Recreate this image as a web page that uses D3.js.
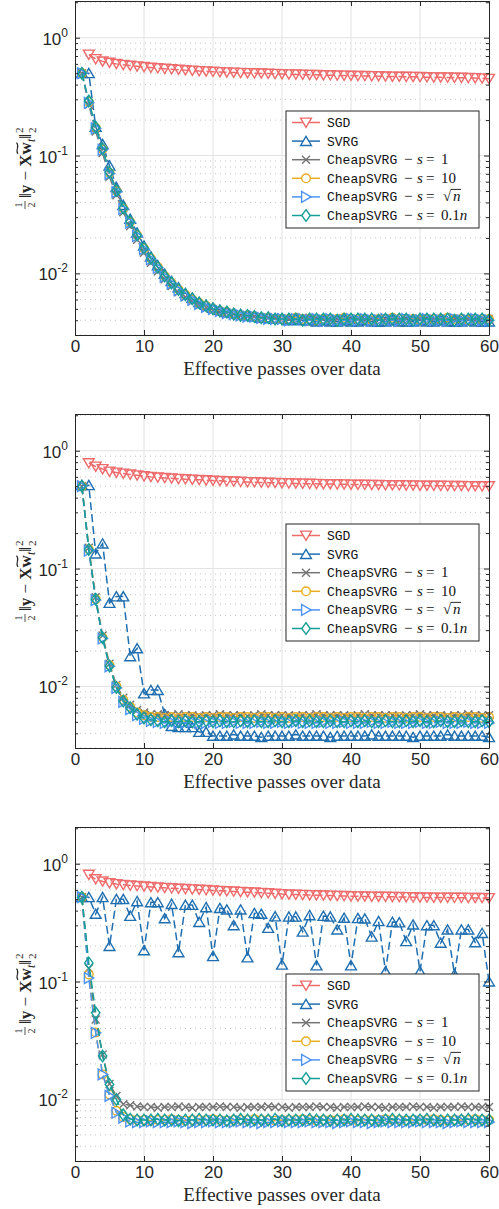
<!DOCTYPE html>
<html>
<head>
<meta charset="utf-8">
<script src="https://cdn.jsdelivr.net/npm/d3@7"></script>
<style>
  body { margin: 0; background: #fff; }
</style>
</head>
<body>
<div id="chart"></div>
<script>
// effective passes (x values)
var passes = [
  1, 2, 3, 4, 5, 6, 7, 8, 9, 10,
  11, 12, 13, 14, 15, 16, 17, 18, 19, 20,
  21, 22, 23, 24, 25, 26, 27, 28, 29, 30,
  31, 32, 33, 34, 35, 36, 37, 38, 39, 40,
  41, 42, 43, 44, 45, 46, 47, 48, 49, 50,
  51, 52, 53, 54, 55, 56, 57, 58, 59, 60
];

// ---- top panel
var sgdA = [
  null, 0.720, 0.660, 0.630, 0.615, 0.600, 0.590, 0.580, 0.572, 0.565,
  0.558, 0.552, 0.546, 0.541, 0.536, 0.531, 0.527, 0.522, 0.519, 0.515,
  0.512, 0.509, 0.507, 0.504, 0.502, 0.500, 0.498, 0.496, 0.494, 0.492,
  0.490, 0.488, 0.487, 0.485, 0.484, 0.482, 0.481, 0.479, 0.478, 0.477,
  0.475, 0.474, 0.473, 0.472, 0.470, 0.469, 0.468, 0.467, 0.466, 0.465,
  0.463, 0.462, 0.461, 0.460, 0.459, 0.458, 0.456, 0.455, 0.453, 0.448
];
var svrgA = [
  0.500, 0.500, 0.175, 0.125, 0.082, 0.054, 0.038, 0.029, 0.0222, 0.0172,
  0.0139, 0.0117, 0.0099, 0.0086, 0.0076, 0.0068, 0.0062, 0.0057, 0.0054, 0.0051,
  0.0049, 0.0047, 0.0046, 0.0045, 0.0044, 0.0043, 0.0042, 0.0042, 0.0041, 0.0041,
  0.0040, 0.0041, 0.0040, 0.0040, 0.0039, 0.0040, 0.0039, 0.0039, 0.0040, 0.0039,
  0.0039, 0.0040, 0.0039, 0.0039, 0.0039, 0.0040, 0.0039, 0.0039, 0.0039, 0.0040,
  0.0039, 0.0039, 0.0040, 0.0039, 0.0039, 0.0039, 0.0040, 0.0039, 0.0039, 0.0039
];
var cheap1A = [
  0.500, 0.270, 0.160, 0.105, 0.066, 0.046, 0.0330, 0.0252, 0.0193, 0.0150,
  0.0123, 0.0104, 0.0089, 0.0078, 0.0069, 0.0063, 0.0058, 0.0054, 0.0051, 0.0049,
  0.0047, 0.0046, 0.0045, 0.0044, 0.0043, 0.0043, 0.0042, 0.0042, 0.0042, 0.0041,
  0.0041, 0.0041, 0.0042, 0.0041, 0.0041, 0.0041, 0.0040, 0.0041, 0.0041, 0.0041,
  0.0041, 0.0040, 0.0041, 0.0041, 0.0041, 0.0041, 0.0040, 0.0041, 0.0041, 0.0041,
  0.0041, 0.0041, 0.0040, 0.0041, 0.0041, 0.0041, 0.0041, 0.0040, 0.0041, 0.0041
];
var cheap10A = [
  0.500, 0.285, 0.172, 0.113, 0.071, 0.050, 0.0356, 0.0273, 0.0211, 0.0163,
  0.0134, 0.0113, 0.0095, 0.0083, 0.0073, 0.0066, 0.0060, 0.0056, 0.0053, 0.0050,
  0.0048, 0.0047, 0.0045, 0.0044, 0.0044, 0.0043, 0.0042, 0.0042, 0.0041, 0.0041,
  0.0041, 0.0042, 0.0041, 0.0041, 0.0040, 0.0041, 0.0041, 0.0041, 0.0042, 0.0041,
  0.0041, 0.0041, 0.0040, 0.0041, 0.0041, 0.0042, 0.0041, 0.0041, 0.0041, 0.0040,
  0.0041, 0.0041, 0.0041, 0.0042, 0.0041, 0.0041, 0.0040, 0.0041, 0.0041, 0.0041
];
var cheapSqrtA = [
  0.500, 0.280, 0.170, 0.112, 0.070, 0.049, 0.0352, 0.0270, 0.0208, 0.0161,
  0.0132, 0.0112, 0.0094, 0.0082, 0.0072, 0.0065, 0.0060, 0.0055, 0.0052, 0.0050,
  0.0048, 0.0046, 0.0045, 0.0044, 0.0043, 0.0043, 0.0042, 0.0041, 0.0041, 0.0041,
  0.0040, 0.0041, 0.0041, 0.0040, 0.0041, 0.0040, 0.0041, 0.0040, 0.0040, 0.0041,
  0.0040, 0.0041, 0.0040, 0.0040, 0.0041, 0.0040, 0.0040, 0.0041, 0.0040, 0.0040,
  0.0041, 0.0040, 0.0040, 0.0040, 0.0041, 0.0040, 0.0040, 0.0041, 0.0040, 0.0040
];
var cheapTenthA = [
  0.500, 0.290, 0.174, 0.114, 0.072, 0.0505, 0.0358, 0.0275, 0.0212, 0.0164,
  0.0134, 0.0113, 0.0095, 0.0083, 0.0073, 0.0066, 0.0061, 0.0056, 0.0053, 0.0050,
  0.0048, 0.0047, 0.0045, 0.0044, 0.0044, 0.0043, 0.0042, 0.0042, 0.0041, 0.0041,
  0.0041, 0.0041, 0.0040, 0.0041, 0.0041, 0.0041, 0.0041, 0.0040, 0.0041, 0.0041,
  0.0041, 0.0041, 0.0041, 0.0040, 0.0041, 0.0041, 0.0041, 0.0041, 0.0040, 0.0041,
  0.0041, 0.0041, 0.0041, 0.0041, 0.0040, 0.0041, 0.0041, 0.0041, 0.0041, 0.0040
];

// ---- middle panel
var sgdB = [
  null, 0.785, 0.735, 0.700, 0.666, 0.653, 0.640, 0.629, 0.619, 0.608,
  0.600, 0.594, 0.588, 0.583, 0.578, 0.574, 0.570, 0.566, 0.562, 0.558,
  0.555, 0.552, 0.549, 0.546, 0.543, 0.541, 0.538, 0.536, 0.534, 0.532,
  0.530, 0.528, 0.527, 0.525, 0.524, 0.522, 0.521, 0.520, 0.519, 0.517,
  0.516, 0.515, 0.514, 0.513, 0.512, 0.511, 0.510, 0.509, 0.508, 0.507,
  0.506, 0.506, 0.505, 0.504, 0.503, 0.503, 0.502, 0.501, 0.500, 0.500
];
var svrgB = [
  0.510, 0.510, 0.134, 0.163, 0.051, 0.058, 0.058, 0.0180, 0.0210, 0.0087,
  0.0093, 0.0093, 0.0058, 0.0046, 0.0045, 0.0045, 0.0045, 0.0041, 0.0041, 0.0038,
  0.0038, 0.0038, 0.0039, 0.0038, 0.0038, 0.0038, 0.0037, 0.0038, 0.0038, 0.0038,
  0.0038, 0.0039, 0.0038, 0.0038, 0.0038, 0.0038, 0.0037, 0.0038, 0.0038, 0.0038,
  0.0038, 0.0038, 0.0039, 0.0038, 0.0038, 0.0038, 0.0038, 0.0038, 0.0037, 0.0038,
  0.0038, 0.0038, 0.0038, 0.0039, 0.0038, 0.0038, 0.0038, 0.0038, 0.0038, 0.0037
];
var cheap1B = [
  0.500, 0.150, 0.057, 0.0270, 0.0156, 0.0103, 0.0080, 0.0070, 0.0063, 0.0060,
  0.0058, 0.0058, 0.0057, 0.0057, 0.0058, 0.0057, 0.0057, 0.0056, 0.0057, 0.0057,
  0.0058, 0.0057, 0.0057, 0.0057, 0.0056, 0.0057, 0.0058, 0.0057, 0.0057, 0.0057,
  0.0057, 0.0056, 0.0057, 0.0057, 0.0058, 0.0057, 0.0057, 0.0057, 0.0057, 0.0056,
  0.0057, 0.0058, 0.0057, 0.0057, 0.0057, 0.0057, 0.0056, 0.0057, 0.0057, 0.0058,
  0.0057, 0.0057, 0.0057, 0.0056, 0.0057, 0.0057, 0.0058, 0.0057, 0.0057, 0.0057
];
var cheap10B = [
  0.500, 0.146, 0.055, 0.0260, 0.0151, 0.0100, 0.0077, 0.0067, 0.0060, 0.0057,
  0.0055, 0.0055, 0.0054, 0.0055, 0.0054, 0.0055, 0.0055, 0.0054, 0.0055, 0.0054,
  0.0055, 0.0055, 0.0054, 0.0055, 0.0055, 0.0054, 0.0055, 0.0055, 0.0054, 0.0055,
  0.0054, 0.0055, 0.0055, 0.0054, 0.0055, 0.0055, 0.0054, 0.0055, 0.0054, 0.0055,
  0.0055, 0.0054, 0.0055, 0.0055, 0.0054, 0.0055, 0.0055, 0.0054, 0.0055, 0.0055,
  0.0054, 0.0055, 0.0055, 0.0054, 0.0055, 0.0054, 0.0055, 0.0055, 0.0054, 0.0055
];
var cheapSqrtB = [
  0.500, 0.142, 0.054, 0.0255, 0.0148, 0.0097, 0.0074, 0.0064, 0.0057, 0.0053,
  0.0051, 0.0050, 0.0049, 0.0050, 0.0049, 0.0049, 0.0050, 0.0049, 0.0049, 0.0050,
  0.0049, 0.0049, 0.0050, 0.0049, 0.0049, 0.0049, 0.0050, 0.0049, 0.0049, 0.0050,
  0.0049, 0.0050, 0.0049, 0.0049, 0.0049, 0.0050, 0.0049, 0.0049, 0.0050, 0.0049,
  0.0049, 0.0049, 0.0050, 0.0049, 0.0049, 0.0050, 0.0049, 0.0049, 0.0049, 0.0050,
  0.0049, 0.0049, 0.0050, 0.0049, 0.0049, 0.0049, 0.0050, 0.0049, 0.0049, 0.0049
];
var cheapTenthB = [
  0.500, 0.145, 0.055, 0.0259, 0.0149, 0.0098, 0.0075, 0.0066, 0.0058, 0.0054,
  0.0052, 0.0051, 0.0050, 0.0051, 0.0050, 0.0051, 0.0050, 0.0050, 0.0051, 0.0050,
  0.0051, 0.0050, 0.0050, 0.0051, 0.0050, 0.0051, 0.0050, 0.0050, 0.0051, 0.0050,
  0.0050, 0.0051, 0.0050, 0.0051, 0.0050, 0.0050, 0.0051, 0.0050, 0.0050, 0.0051,
  0.0050, 0.0051, 0.0050, 0.0050, 0.0051, 0.0050, 0.0050, 0.0051, 0.0050, 0.0051,
  0.0050, 0.0050, 0.0051, 0.0050, 0.0050, 0.0051, 0.0050, 0.0050, 0.0051, 0.0050
];

// ---- bottom panel
var sgdC = [
  null, 0.807, 0.740, 0.708, 0.686, 0.672, 0.662, 0.654, 0.648, 0.642,
  0.636, 0.630, 0.625, 0.620, 0.615, 0.611, 0.607, 0.603, 0.599, 0.594,
  0.590, 0.586, 0.582, 0.578, 0.574, 0.571, 0.567, 0.563, 0.558, 0.553,
  0.550, 0.547, 0.545, 0.543, 0.541, 0.539, 0.537, 0.535, 0.533, 0.530,
  0.529, 0.528, 0.527, 0.526, 0.525, 0.524, 0.523, 0.522, 0.520, 0.518,
  0.518, 0.517, 0.517, 0.516, 0.515, 0.515, 0.514, 0.513, 0.513, 0.512
];
var svrgC = [
  0.520, 0.520, 0.375, 0.520, 0.200, 0.500, 0.500, 0.360, 0.480, 0.184,
  0.470, 0.470, 0.344, 0.455, 0.177, 0.447, 0.447, 0.320, 0.427, 0.164,
  0.420, 0.408, 0.300, 0.408, 0.160, 0.380, 0.375, 0.285, 0.357, 0.139,
  0.355, 0.355, 0.265, 0.365, 0.137, 0.360, 0.355, 0.276, 0.347, 0.137,
  0.345, 0.342, 0.240, 0.325, 0.122, 0.320, 0.317, 0.220, 0.304, 0.122,
  0.300, 0.300, 0.213, 0.276, 0.115, 0.276, 0.276, 0.215, 0.258, 0.100
];
var cheap1C = [
  0.520, 0.130, 0.0476, 0.0240, 0.0135, 0.0107, 0.0091, 0.0089, 0.0087, 0.0086,
  0.0086, 0.0085, 0.0086, 0.0086, 0.0087, 0.0086, 0.0085, 0.0086, 0.0086, 0.0086,
  0.0087, 0.0086, 0.0086, 0.0085, 0.0086, 0.0086, 0.0086, 0.0087, 0.0086, 0.0086,
  0.0085, 0.0086, 0.0086, 0.0086, 0.0087, 0.0086, 0.0086, 0.0085, 0.0086, 0.0086,
  0.0086, 0.0087, 0.0086, 0.0086, 0.0085, 0.0086, 0.0086, 0.0086, 0.0087, 0.0086,
  0.0086, 0.0085, 0.0086, 0.0086, 0.0086, 0.0087, 0.0086, 0.0086, 0.0086, 0.0086
];
var cheap10C = [
  0.520, 0.115, 0.0370, 0.0163, 0.0110, 0.0080, 0.0071, 0.0068, 0.0067, 0.0067,
  0.0066, 0.0067, 0.0067, 0.0068, 0.0067, 0.0066, 0.0067, 0.0067, 0.0067, 0.0068,
  0.0067, 0.0066, 0.0067, 0.0067, 0.0067, 0.0068, 0.0067, 0.0067, 0.0066, 0.0067,
  0.0067, 0.0067, 0.0068, 0.0067, 0.0066, 0.0067, 0.0067, 0.0067, 0.0068, 0.0067,
  0.0066, 0.0067, 0.0067, 0.0067, 0.0068, 0.0067, 0.0067, 0.0066, 0.0067, 0.0067,
  0.0067, 0.0068, 0.0067, 0.0066, 0.0067, 0.0067, 0.0067, 0.0068, 0.0067, 0.0067
];
var cheapSqrtC = [
  0.520, 0.107, 0.0367, 0.0163, 0.0107, 0.0077, 0.0070, 0.0065, 0.0064, 0.0064,
  0.0065, 0.0064, 0.0064, 0.0064, 0.0065, 0.0064, 0.0063, 0.0064, 0.0064, 0.0065,
  0.0064, 0.0064, 0.0064, 0.0065, 0.0064, 0.0064, 0.0063, 0.0064, 0.0064, 0.0065,
  0.0064, 0.0064, 0.0064, 0.0065, 0.0064, 0.0064, 0.0064, 0.0063, 0.0064, 0.0065,
  0.0064, 0.0064, 0.0063, 0.0064, 0.0065, 0.0064, 0.0064, 0.0064, 0.0064, 0.0065,
  0.0064, 0.0064, 0.0064, 0.0063, 0.0064, 0.0065, 0.0064, 0.0064, 0.0064, 0.0064
];
var cheapTenthC = [
  0.520, 0.144, 0.0543, 0.0233, 0.0134, 0.0100, 0.0074, 0.0068, 0.0067, 0.0067,
  0.0067, 0.0068, 0.0067, 0.0067, 0.0066, 0.0067, 0.0067, 0.0068, 0.0067, 0.0067,
  0.0067, 0.0066, 0.0067, 0.0068, 0.0067, 0.0067, 0.0067, 0.0067, 0.0068, 0.0066,
  0.0067, 0.0067, 0.0067, 0.0068, 0.0067, 0.0067, 0.0066, 0.0067, 0.0067, 0.0068,
  0.0067, 0.0067, 0.0067, 0.0066, 0.0067, 0.0068, 0.0067, 0.0067, 0.0067, 0.0067,
  0.0068, 0.0067, 0.0066, 0.0067, 0.0067, 0.0067, 0.0068, 0.0067, 0.0067, 0.0067
];

// series look and legend entries
var seriesNames = ["SGD", "SVRG", "CheapSVRG", "CheapSVRG", "CheapSVRG", "CheapSVRG"];
var seriesS = [null, null, "1", "10", "sqrt", "0.1"];
var seriesColors = ["#ef6b6b", "#1f6fb0", "#747474", "#e8ad22", "#4c93f5", "#159e98"];
var seriesMarkers = ["down", "up", "cross", "circle", "right", "diamond"];

var xTicks = [0, 10, 20, 30, 40, 50, 60];
var yTicks = [0.01, 0.1, 1];
var yTickExp = ["-2", "-1", "0"];
var yMinor = [0.003, 0.004, 0.005, 0.006, 0.007, 0.008, 0.009,
              0.02, 0.03, 0.04, 0.05, 0.06, 0.07, 0.08, 0.09,
              0.2, 0.3, 0.4, 0.5, 0.6, 0.7, 0.8, 0.9, 2];

var panels = [
  { top: 1,   legendTop: 110, data: [sgdA, svrgA, cheap1A, cheap10A, cheapSqrtA, cheapTenthA] },
  { top: 414, legendTop: 110, data: [sgdB, svrgB, cheap1B, cheap10B, cheapSqrtB, cheapTenthB] },
  { top: 827, legendTop: 147, data: [sgdC, svrgC, cheap1C, cheap10C, cheapSqrtC, cheapTenthC] }
];

var svgWidth = 499, svgHeight = 1209;
var plotLeft = 75, plotRight = 489, plotHeight = 334;
var ink = "#262626";
var sans = "'Liberation Sans', Arial, sans-serif";
var serif = "'Liberation Serif', 'Times New Roman', serif";
var mono = "'Liberation Mono', 'Courier New', monospace";

var svg = d3.select("#chart").append("svg")
  .attr("width", svgWidth)
  .attr("height", svgHeight);

function markerPath(type) {
  if (type === "down") return "M0,4.8L-5.4,-4.4L5.4,-4.4Z";
  if (type === "up") return "M0,-4.8L-5.4,4.4L5.4,4.4Z";
  if (type === "right") return "M5,0L-4.4,-5.4L-4.4,5.4Z";
  if (type === "diamond") return "M0,-5.8L4.2,0L0,5.8L-4.2,0Z";
  if (type === "cross") return "M-4,-4L4,4M-4,4L4,-4";
  return "M4.3,0A4.3,4.3 0 1,1 -4.3,0A4.3,4.3 0 1,1 4.3,0Z";
}

function drawPanel(p) {
  var top = p.top, bottom = p.top + plotHeight;
  var x = d3.scaleLinear().domain([0, 60]).range([plotLeft, plotRight]);
  var y = d3.scaleLog().domain([0.003, 2.05]).range([bottom, top]);
  var g = svg.append("g");

  // grid
  g.selectAll(null).data(yMinor).enter().append("line")
    .attr("x1", plotLeft).attr("x2", plotRight)
    .attr("y1", d => y(d)).attr("y2", d => y(d))
    .attr("stroke", "#c4c4c4").attr("stroke-width", 1)
    .attr("stroke-dasharray", "1,4");
  g.selectAll(null).data(yTicks).enter().append("line")
    .attr("x1", plotLeft).attr("x2", plotRight)
    .attr("y1", d => y(d)).attr("y2", d => y(d))
    .attr("stroke", "#e2e2e2").attr("stroke-width", 1);
  g.selectAll(null).data(xTicks.slice(1, -1)).enter().append("line")
    .attr("x1", d => x(d)).attr("x2", d => x(d))
    .attr("y1", top).attr("y2", bottom)
    .attr("stroke", "#e2e2e2").attr("stroke-width", 1);

  // series: line then markers, one after another
  var line = d3.line().x(d => x(d.x)).y(d => y(d.v));
  p.data.forEach(function(vals, i) {
    var pts = passes.map((px, j) => ({ x: px, v: vals[j] })).filter(d => d.v != null);
    var sg = g.append("g");
    sg.append("path").datum(pts)
      .attr("d", line)
      .attr("fill", "none")
      .attr("stroke", seriesColors[i])
      .attr("stroke-width", 1.5)
      .attr("stroke-dasharray", "8,4");
    sg.selectAll(null).data(pts).enter().append("path")
      .attr("d", markerPath(seriesMarkers[i]))
      .attr("transform", d => `translate(${x(d.x)},${y(d.v)})`)
      .attr("fill", "none")
      .attr("stroke", seriesColors[i])
      .attr("stroke-width", 1.4);
  });

  // axes, ticks pointing inward on all four sides
  var xb = g.append("g").attr("transform", `translate(0,${bottom})`)
    .call(d3.axisBottom(x).tickValues(xTicks).tickSize(-5).tickSizeOuter(0).tickPadding(5));
  xb.selectAll("text").attr("font-family", sans).attr("font-size", 17).attr("fill", ink);
  g.append("g").attr("transform", `translate(0,${top})`)
    .call(d3.axisTop(x).tickValues(xTicks).tickSize(-5).tickSizeOuter(0).tickFormat(""));
  g.append("g").attr("transform", `translate(${plotLeft},0)`)
    .call(d3.axisLeft(y).tickValues(yTicks).tickSize(-5).tickSizeOuter(0).tickFormat(""));
  g.append("g").attr("transform", `translate(${plotLeft},0)`)
    .call(d3.axisLeft(y).tickValues(yMinor).tickSize(-3).tickSizeOuter(0).tickFormat(""))
    .select(".domain").remove();
  g.append("g").attr("transform", `translate(${plotRight},0)`)
    .call(d3.axisRight(y).tickValues(yTicks).tickSize(-5).tickSizeOuter(0).tickFormat(""));
  g.append("g").attr("transform", `translate(${plotRight},0)`)
    .call(d3.axisRight(y).tickValues(yMinor).tickSize(-3).tickSizeOuter(0).tickFormat(""))
    .select(".domain").remove();
  g.selectAll(".domain, .tick line").attr("stroke", ink).attr("stroke-width", 1);

  // y tick labels as 10^k
  yTicks.forEach(function(v, k) {
    var t = g.append("text")
      .attr("x", 68).attr("y", y(v) + 7)
      .attr("text-anchor", "end")
      .attr("font-family", sans).attr("font-size", 17).attr("fill", ink);
    t.append("tspan").text("10");
    t.append("tspan").attr("dy", -8).attr("font-size", 12).text(yTickExp[k]);
  });

  // x label
  g.append("text")
    .attr("x", (plotLeft + plotRight) / 2).attr("y", bottom + 40)
    .attr("text-anchor", "middle")
    .attr("font-family", serif).attr("font-size", 19).attr("fill", ink)
    .text("Effective passes over data");

  drawYLabel((top + bottom) / 2);
  drawLegend(top + p.legendTop);
}

function drawYLabel(cy) {
  var lab = svg.append("g").attr("transform", `translate(31,${cy}) rotate(-90)`);
  var inner = lab.append("g");
  // 1/2 fraction
  inner.append("text").attr("x", 4).attr("y", -9).attr("text-anchor", "middle")
    .attr("font-family", serif).attr("font-size", 10).attr("fill", ink).text("1");
  inner.append("line").attr("x1", 0).attr("x2", 8).attr("y1", -6).attr("y2", -6)
    .attr("stroke", ink).attr("stroke-width", 0.8);
  inner.append("text").attr("x", 4).attr("y", 4).attr("text-anchor", "middle")
    .attr("font-family", serif).attr("font-size", 10).attr("fill", ink).text("2");

  var t = inner.append("text").attr("x", 11).attr("y", 0)
    .attr("font-family", serif).attr("font-size", 17).attr("fill", ink);
  t.append("tspan").text("\u2016");
  t.append("tspan").attr("font-weight", "bold").text("y");
  t.append("tspan").text(" \u2212 ");
  t.append("tspan").attr("font-weight", "bold").text("X");
  t.append("tspan").attr("font-weight", "bold").text("w");
  t.append("tspan").attr("font-style", "italic").attr("font-size", 12).attr("dy", 4).text("t");
  t.append("tspan").attr("dy", -4).text("\u2016");

  var node = t.node();
  var len = node.getComputedTextLength();
  var w0 = node.getStartPositionOfChar(6).x, w1 = node.getEndPositionOfChar(6).x;
  inner.append("path")
    .attr("d", `M${w0 + 0.5},-13C${w0 + (w1 - w0) * 0.35},-16.5 ${w0 + (w1 - w0) * 0.6},-10.5 ${w1 - 0.5},-14.5`)
    .attr("fill", "none").attr("stroke", ink).attr("stroke-width", 1.1);

  var endX = 11 + len + 1;
  inner.append("text").attr("x", endX).attr("y", -8)
    .attr("font-family", serif).attr("font-size", 11).attr("fill", ink).text("2");
  inner.append("text").attr("x", endX).attr("y", 5)
    .attr("font-family", serif).attr("font-size", 11).attr("fill", ink).text("2");
  var total = endX + 6;
  inner.attr("transform", `translate(${-total / 2},0)`);
}

function drawLegend(boxTop) {
  var lg = svg.append("g");
  lg.append("rect")
    .attr("x", 286).attr("y", boxTop)
    .attr("width", 193).attr("height", 117)
    .attr("fill", "#fff").attr("stroke", ink).attr("stroke-width", 1);
  seriesNames.forEach(function(name, i) {
    var ry = boxTop + 11.5 + 18.6 * i;
    lg.append("line").attr("x1", 292).attr("x2", 320).attr("y1", ry).attr("y2", ry)
      .attr("stroke", seriesColors[i]).attr("stroke-width", 1.5);
    lg.append("path").attr("d", markerPath(seriesMarkers[i]))
      .attr("transform", `translate(306,${ry})`)
      .attr("fill", "#fff").attr("stroke", seriesColors[i]).attr("stroke-width", 1.4);
    lg.append("text").attr("x", 327).attr("y", ry + 4.5)
      .attr("font-family", mono).attr("font-size", 13).attr("fill", "#111")
      .text(name);
    if (seriesS[i] == null) return;
    var m = lg.append("text").attr("y", ry + 4.5)
      .attr("font-family", serif).attr("font-size", 15).attr("fill", "#111");
    m.append("tspan").attr("x", 404).text("\u2212");
    m.append("tspan").attr("x", 417).attr("font-style", "italic").text("s");
    m.append("tspan").attr("x", 426).text("=");
    if (seriesS[i] === "sqrt") {
      m.append("tspan").attr("x", 443).text("\u221A");
      m.append("tspan").attr("x", 453).attr("font-style", "italic").text("n");
      lg.append("line").attr("x1", 451).attr("x2", 461).attr("y1", ry - 7.5).attr("y2", ry - 7.5)
        .attr("stroke", "#111").attr("stroke-width", 0.9);
    } else if (seriesS[i] === "0.1") {
      m.append("tspan").attr("x", 441).text("0.1");
      m.append("tspan").attr("font-style", "italic").text("n");
    } else {
      m.append("tspan").attr("x", 441).text(seriesS[i]);
    }
  });
}

panels.forEach(drawPanel);
</script>
</body>
</html>
